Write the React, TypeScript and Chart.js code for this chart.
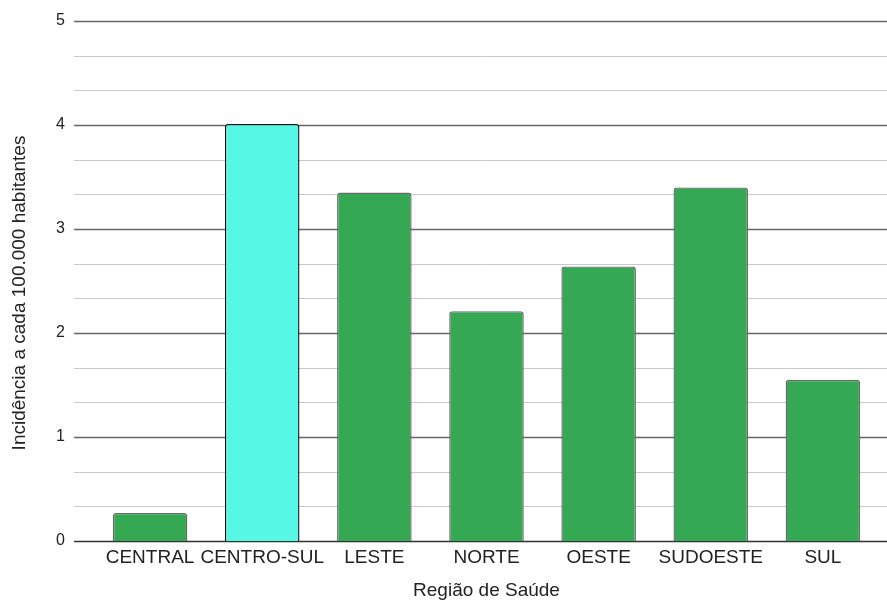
import React, { useEffect, useRef } from "react";
import { Chart, registerables } from "chart.js";

Chart.register(...registerables);

const categories = ["CENTRAL", "CENTRO-SUL", "LESTE", "NORTE", "OESTE", "SUDOESTE", "SUL"];
const incidence = [0.27, 4.01, 3.35, 2.21, 2.64, 3.4, 1.55];
const barColors = ["#34a853", "#56f7e4", "#34a853", "#34a853", "#34a853", "#34a853", "#34a853"];
const barBorders = ["#6b6b6b", "#111111", "#6b6b6b", "#6b6b6b", "#6b6b6b", "#6b6b6b", "#6b6b6b"];
const yMax = 5;
const minorPerMajor = 3;
const yTitle = "Incidência a cada 100.000 habitantes";
const xTitle = "Região de Saúde";

const FONT = "'Liberation Sans', Arial, sans-serif";

// Grid lines drawn behind the bars, running past the plot area on both sides.
const gridPlugin = {
  id: "wideGrid",
  beforeDatasetsDraw(chart: any) {
    const { ctx } = chart;
    const y = chart.scales.y;
    const x0 = 74;
    const x1 = chart.width;
    ctx.save();
    for (let k = 0; k <= yMax * minorPerMajor; k++) {
      const py = Math.round(y.getPixelForValue(k / minorPerMajor)) + 0.5;
      const major = k % minorPerMajor === 0;
      ctx.strokeStyle = major ? (k === 0 ? "#333333" : "#666666") : "#c8c8c8";
      ctx.lineWidth = major ? 1.3 : 1;
      ctx.beginPath();
      ctx.moveTo(x0, py);
      ctx.lineTo(x1, py);
      ctx.stroke();
    }
    ctx.restore();
  },
  afterDraw(chart: any) {
    const { ctx } = chart;
    ctx.save();
    ctx.translate(20, 293);
    ctx.rotate(-Math.PI / 2);
    ctx.fillStyle = "#222222";
    ctx.font = `19px ${FONT}`;
    ctx.textAlign = "center";
    ctx.textBaseline = "middle";
    ctx.fillText(yTitle, 0, 0);
    ctx.restore();
  },
};

export default function App() {
  const canvasRef = useRef<HTMLCanvasElement | null>(null);

  useEffect(() => {
    if (!canvasRef.current) return;
    const chart = new Chart(canvasRef.current, {
      type: "bar",
      data: {
        labels: categories,
        datasets: [
          {
            data: incidence,
            backgroundColor: barColors,
            borderColor: barBorders,
            borderWidth: 1.4,
            borderRadius: 3,
            borderSkipped: "bottom",
            categoryPercentage: 1,
            barPercentage: 0.665,
          },
        ],
      },
      options: {
        animation: false,
        responsive: false,
        maintainAspectRatio: false,
        layout: { padding: { top: 21, right: 8, bottom: 0, left: 56 } },
        plugins: {
          legend: { display: false },
          tooltip: { enabled: false },
        },
        scales: {
          x: {
            grid: { display: false, drawTicks: false },
            border: { display: false },
            ticks: {
              color: "#222222",
              font: { family: FONT, size: 19 },
              padding: 5,
              maxRotation: 0,
              autoSkip: false,
            },
            title: {
              display: true,
              text: xTitle,
              color: "#222222",
              font: { family: FONT, size: 19, lineHeight: 1 },
              padding: { top: 0, bottom: 1 },
            },
            afterFit(scale: any) {
              scale.height = 60;
            },
          },
          y: {
            min: 0,
            max: yMax,
            grid: { display: false, drawTicks: false },
            border: { display: false },
            ticks: {
              stepSize: 1,
              color: "#222222",
              font: { family: FONT, size: 16 },
              padding: 2,
              crossAlign: "far",
            },
            afterFit(scale: any) {
              scale.width = 38;
            },
          },
        },
      },
      plugins: [gridPlugin],
    });
    return () => chart.destroy();
  }, []);

  return (
    <div style={{ position: "fixed", left: 0, top: 0, width: 887, height: 601, background: "#ffffff" }}>
      <canvas ref={canvasRef} width={887} height={601} style={{ display: "block" }} />
    </div>
  );
}
